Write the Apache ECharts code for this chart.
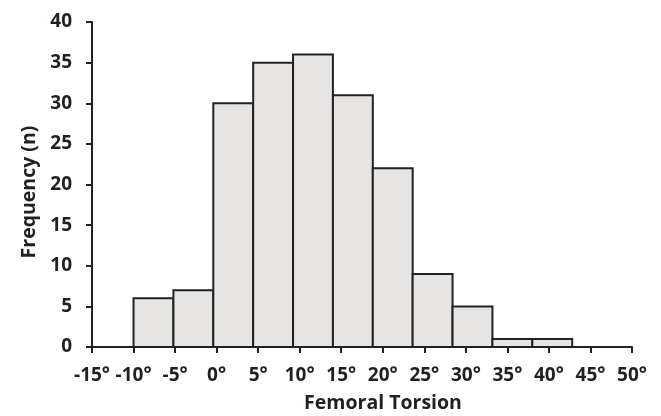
<!DOCTYPE html>
<html>
<head>
<meta charset="utf-8">
<script src="https://cdn.jsdelivr.net/npm/echarts@6/dist/echarts.min.js"></script>
<style>html,body{margin:0;padding:0;background:#fff}#c{width:661px;height:416px}</style>
</head>
<body>
<div id="c"></div>
<script>
const binStarts = [-10, -5.2, -0.4, 4.4, 9.2, 14.0, 18.8, 23.6, 28.4, 33.2, 38.0];
const binEnds   = [-5.2, -0.4, 4.4, 9.2, 14.0, 18.8, 23.6, 28.4, 33.2, 38.0, 42.8];
const counts    = [6, 7, 30, 35, 36, 31, 22, 9, 5, 1, 1];
const xTicks = [-15, -10, -5, 0, 5, 10, 15, 20, 25, 30, 35, 40, 45, 50];
const yTicks = [0, 5, 10, 15, 20, 25, 30, 35, 40];

const chart = echarts.init(document.getElementById('c'), null, {renderer: 'canvas'});
const txt = '#231f20';
const font = '"Open Sans", sans-serif';
const data = counts.map((c, i) => [binStarts[i], binEnds[i], c]);

chart.setOption({
  animation: false,
  grid: {left: 92, right: 29, top: 22, bottom: 69, containLabel: false, outerBoundsMode: 'none'},
  xAxis: {
    type: 'value', min: xTicks[0], max: xTicks[xTicks.length - 1], interval: 5,
    name: 'Femoral Torsion', nameLocation: 'middle', nameGap: 46,
    nameTextStyle: {fontFamily: font, fontWeight: 'bold', fontSize: 19.5, color: txt, padding: [0, 0, 0, 42]},
    axisLine: {onZero: false, lineStyle: {color: '#222', width: 2}},
    axisTick: {show: true, length: 6, lineStyle: {color: '#222', width: 2}},
    axisLabel: {formatter: v => v + '°', fontFamily: font, fontWeight: 'bold', fontSize: 19, color: txt, margin: 19},
    splitLine: {show: false}
  },
  yAxis: {
    type: 'value', min: yTicks[0], max: yTicks[yTicks.length - 1], interval: 5,
    name: 'Frequency (n)', nameLocation: 'middle', nameGap: 48, nameRotate: 90,
    nameTextStyle: {fontFamily: font, fontWeight: 'bold', fontSize: 19.5, color: txt, padding: [0, 15, 0, 0]},
    axisLine: {show: true, onZero: false, lineStyle: {color: '#222', width: 2}},
    axisTick: {show: true, length: 6, lineStyle: {color: '#222', width: 2}},
    axisLabel: {fontFamily: font, fontWeight: 'bold', fontSize: 19, color: txt, margin: 20},
    splitLine: {show: false}
  },
  series: [{
    type: 'custom',
    data: data,
    encode: {x: [0, 1], y: 2},
    renderItem: function (params, api) {
      const p0 = api.coord([api.value(0), api.value(2)]);
      const p1 = api.coord([api.value(1), 0]);
      return {
        type: 'rect',
        shape: {x: p0[0], y: p0[1], width: p1[0] - p0[0], height: p1[1] - p0[1]},
        style: {fill: '#e6e5e4', stroke: '#222', lineWidth: 2}
      };
    }
  }]
});
</script>
</body>
</html>
